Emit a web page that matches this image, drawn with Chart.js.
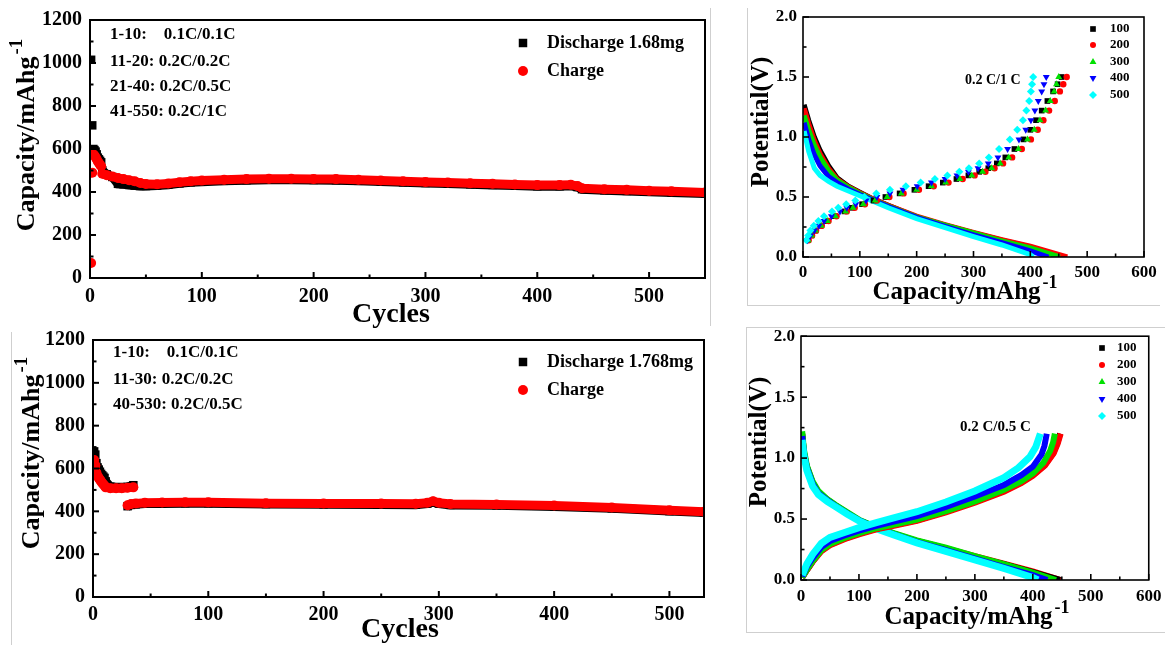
<!DOCTYPE html>
<html>
<head>
<meta charset="utf-8">
<script src="https://cdn.jsdelivr.net/npm/chart.js@4.4.1/dist/chart.umd.min.js"></script>
<style>
body { margin: 0; background: #fff; width: 1168px; height: 645px; position: relative; overflow: hidden; }
canvas { position: absolute; }
.edge { position: absolute; background: #cfcfcf; }
</style>
</head>
<body>
<div class="edge" style="left:710px;top:8px;width:1px;height:318px"></div>
<div class="edge" style="left:747px;top:8px;width:1px;height:297px"></div>
<div class="edge" style="left:747px;top:305px;width:413px;height:1px"></div>
<div class="edge" style="left:11px;top:332px;width:1px;height:313px"></div>
<div class="edge" style="left:746px;top:327px;width:1px;height:305px"></div>
<div class="edge" style="left:746px;top:327px;width:419px;height:1px"></div>
<div class="edge" style="left:746px;top:632px;width:419px;height:1px"></div>

<canvas id="c1" style="left:0;top:0" width="720" height="332"></canvas>
<canvas id="c2" style="left:730px;top:0" width="438" height="320"></canvas>
<canvas id="c3" style="left:0;top:320px" width="720" height="325"></canvas>
<canvas id="c4" style="left:730px;top:320px" width="438" height="325"></canvas>

<script>
// ---- cycling, 1.68 mg (top left) ----
const p1EarlyCyc = [1, 2, 3, 4, 5, 6, 7, 8, 9, 10];
const p1EarlyDis = [1015, 710, 600, 595, 588, 575, 560, 552, 545, 538];
const p1EarlyChg = [70, 490, 575, 570, 562, 552, 542, 535, 527, 520];
const p1Cyc = [11, 15, 20, 25, 30, 35, 40, 45, 50, 60, 70, 80, 90, 100, 120, 140, 160, 180, 200, 220,
  240, 260, 280, 300, 320, 340, 360, 380, 400, 420, 430, 436, 440, 460, 480, 500, 520, 550];
const p1Chg = [485, 478, 472, 465, 460, 455, 450, 442, 437, 436, 440, 445, 450, 453, 457, 460, 462, 462, 461, 460,
  457, 454, 450, 447, 444, 441, 438, 435, 432, 432, 434, 428, 418, 413, 410, 406, 403, 398];
const p1Dis = [500, 482, 470, 438, 436, 433, 430, 428, 428, 430, 434, 440, 445, 448, 452, 455, 457, 457, 456, 455,
  452, 449, 445, 442, 439, 436, 433, 430, 427, 427, 429, 423, 413, 408, 405, 401, 398, 393];

// ---- cycling, 1.768 mg (bottom left) ----
const p3EarlyCyc = [1, 2, 3, 4, 5, 6, 7, 8, 9, 10];
const p3EarlyDis = [680, 665, 625, 605, 595, 585, 575, 568, 562, 556];
const p3EarlyChg = [640, 615, 580, 565, 555, 548, 540, 532, 526, 520];
const p3MidCyc = [11, 15, 20, 25, 30, 35];
const p3MidDis = [540, 515, 512, 512, 514, 522];
const p3MidChg = [512, 508, 508, 508, 510, 512];
const p3Cyc = [30, 33, 37, 45, 60, 80, 100, 150, 200, 250, 280, 290, 295, 300, 310, 350, 400, 450, 500, 530];
const p3Chg = [428, 434, 437, 440, 441, 442, 442, 438, 437, 436, 435, 440, 447, 440, 434, 432, 427, 418, 405, 398];
const p3Dis = [424, 430, 433, 436, 437, 438, 438, 434, 433, 432, 431, 436, 443, 436, 430, 428, 423, 414, 401, 394];

// ---- voltage profiles ----
const cycleLabels = ['100', '200', '300', '400', '500'];
const colors = ['#000000', '#ff0000', '#00e000', '#0000ff', '#00ffff'];
const styles = ['rect', 'circle', 'triangle', 'triangle', 'rectRot'];
const rotations = [0, 0, 0, 180, 0];

// top right, 0.2 C/1 C
const p2DisCap = [2, 10, 20, 30, 45, 60, 80, 100, 125, 150, 200, 250, 300, 350, 400];
const p2DisV = [
  [1.27, 1.14, 1.00, 0.89, 0.76, 0.66, 0.59, 0.54, 0.48, 0.43, 0.335, 0.265, 0.20, 0.14, 0.085],
  [1.24, 1.11, 0.97, 0.86, 0.74, 0.65, 0.585, 0.535, 0.48, 0.43, 0.34, 0.27, 0.205, 0.145, 0.09],
  [1.18, 1.06, 0.93, 0.83, 0.72, 0.64, 0.58, 0.53, 0.475, 0.425, 0.335, 0.265, 0.20, 0.135, 0.075],
  [1.12, 0.98, 0.85, 0.76, 0.67, 0.62, 0.565, 0.52, 0.47, 0.42, 0.33, 0.255, 0.185, 0.12, 0.05],
  [1.05, 0.88, 0.74, 0.68, 0.63, 0.59, 0.55, 0.51, 0.46, 0.41, 0.32, 0.245, 0.17, 0.10, 0.02]
];
const p2DisEnd = [458, 465, 452, 432, 405];
const p2ChgV = [0.14, 0.18, 0.22, 0.26, 0.30, 0.34, 0.38, 0.41, 0.44, 0.47, 0.50, 0.53, 0.56, 0.59, 0.62,
  0.65, 0.68, 0.71, 0.74, 0.78, 0.83, 0.90, 0.98, 1.06, 1.14, 1.22, 1.30, 1.38, 1.44, 1.50];
const p2ChgCap = [
  [9, 15, 22, 31, 42, 56, 73, 86, 104, 124, 145, 170, 196, 221, 246, 270, 291, 310, 326, 341, 356, 372, 388, 400, 410, 420, 430, 440, 448, 455],
  [10, 16, 23, 33, 45, 59, 77, 91, 109, 130, 152, 177, 204, 230, 256, 281, 302, 321, 337, 352, 368, 385, 401, 413, 423, 433, 443, 452, 458, 464],
  [9, 15, 22, 32, 43, 57, 75, 88, 106, 127, 148, 173, 200, 226, 251, 276, 297, 316, 332, 347, 362, 379, 395, 407, 417, 427, 435, 442, 446, 450],
  [8, 13, 20, 28, 37, 50, 65, 77, 93, 111, 130, 153, 176, 201, 226, 250, 271, 291, 308, 326, 343, 360, 380, 392, 401, 408, 414, 420, 424, 428],
  [6, 9, 13, 19, 27, 37, 51, 62, 76, 92, 108, 129, 153, 181, 207, 232, 254, 275, 292, 310, 327, 345, 364, 377, 387, 393, 398, 401, 403, 405]
];

// bottom right, 0.2 C/0.5 C
const p4DisCap = [2, 5, 10, 20, 30, 45, 60, 80, 100, 130, 160, 200, 250, 300, 350, 400];
const p4DisV = [
  [1.20, 1.05, 0.93, 0.80, 0.72, 0.66, 0.61, 0.55, 0.49, 0.43, 0.38, 0.32, 0.26, 0.19, 0.13, 0.065],
  [1.20, 1.05, 0.93, 0.80, 0.72, 0.66, 0.61, 0.55, 0.49, 0.43, 0.38, 0.32, 0.26, 0.195, 0.135, 0.07],
  [1.22, 1.07, 0.94, 0.81, 0.73, 0.665, 0.615, 0.555, 0.495, 0.435, 0.385, 0.325, 0.265, 0.195, 0.13, 0.06],
  [1.18, 1.04, 0.92, 0.79, 0.71, 0.655, 0.605, 0.545, 0.49, 0.425, 0.375, 0.31, 0.245, 0.175, 0.105, 0.04],
  [1.15, 1.02, 0.90, 0.77, 0.70, 0.645, 0.60, 0.54, 0.485, 0.42, 0.37, 0.305, 0.235, 0.165, 0.095, 0.02]
];
const p4DisEnd = [447, 448, 440, 425, 409];
const p4ChgCap = [
  [2, 10, 20, 35, 50, 75, 100, 130, 160, 200, 250, 300, 350, 380, 400, 420, 435, 442, 447],
  [2, 10, 20, 35, 50, 75, 100, 130, 160, 200, 250, 300, 350, 380, 400, 421, 436, 443, 448],
  [2, 10, 20, 35, 50, 75, 100, 130, 160, 200, 250, 300, 350, 380, 400, 418, 430, 435, 438],
  [2, 10, 20, 35, 50, 75, 100, 130, 160, 200, 250, 300, 350, 380, 400, 415, 420, 424],
  [2, 10, 20, 35, 50, 75, 100, 130, 160, 200, 250, 300, 350, 375, 395, 405, 413]
];
const p4ChgV = [
  [0.02, 0.08, 0.15, 0.24, 0.29, 0.34, 0.38, 0.42, 0.45, 0.49, 0.56, 0.64, 0.73, 0.80, 0.86, 0.94, 1.04, 1.12, 1.20],
  [0.02, 0.08, 0.15, 0.235, 0.285, 0.335, 0.375, 0.415, 0.445, 0.485, 0.555, 0.635, 0.725, 0.795, 0.855, 0.94, 1.04, 1.12, 1.20],
  [0.02, 0.085, 0.155, 0.245, 0.295, 0.345, 0.385, 0.425, 0.455, 0.495, 0.565, 0.645, 0.74, 0.81, 0.875, 0.96, 1.06, 1.13, 1.20],
  [0.03, 0.11, 0.18, 0.27, 0.32, 0.365, 0.405, 0.445, 0.48, 0.525, 0.60, 0.685, 0.78, 0.86, 0.93, 1.03, 1.10, 1.20],
  [0.04, 0.13, 0.21, 0.30, 0.35, 0.39, 0.43, 0.47, 0.51, 0.56, 0.64, 0.73, 0.84, 0.92, 1.01, 1.09, 1.20]
];

// ticks
const cycTicks1 = [0, 100, 200, 300, 400, 500];
const cycMinor1 = [50, 150, 250, 350, 450, 550];
const cycMinor3 = [50, 150, 250, 350, 450];
const capTicks = [0, 200, 400, 600, 800, 1000, 1200];
const capMinor = [100, 300, 500, 700, 900, 1100];
const mahTicks = [0, 100, 200, 300, 400, 500, 600];
const mahMinor = [50, 150, 250, 350, 450, 550];
const vTicks = [0, 0.5, 1.0, 1.5, 2.0];
const vMinor = [0.25, 0.75, 1.25, 1.75];

const FAMILY = '"Liberation Serif", "Times New Roman", serif';
const pts = (xs, ys) => xs.map((x, i) => ({ x: x, y: ys[i] }));

function drawText(ctx, t) {
  const f = s => 'bold ' + s + 'px ' + FAMILY;
  ctx.save();
  ctx.translate(t.x, t.y);
  if (t.rot) ctx.rotate(-Math.PI / 2);
  ctx.fillStyle = '#000';
  ctx.textBaseline = 'middle';
  ctx.textAlign = 'left';
  ctx.font = f(t.size);
  const w1 = ctx.measureText(t.text).width;
  let w2 = 0;
  if (t.sup) { ctx.font = f(Math.round(t.size * 0.72)); w2 = ctx.measureText(t.sup).width + 2; }
  const x0 = t.align === 'left' ? 0 : -(w1 + w2) / 2;
  ctx.font = f(t.size);
  ctx.fillText(t.text, x0, 0);
  if (t.sup) {
    ctx.font = f(Math.round(t.size * 0.72));
    ctx.fillText(t.sup, x0 + w1 + 2, -t.size * 0.38);
  }
  ctx.restore();
}

// frame, inward ticks, legend keys and labels
const deco = {
  id: 'deco',
  afterDatasetsDraw(chart, args, o) {
    const ctx = chart.ctx, a = chart.chartArea;
    const sx = chart.scales.x, sy = chart.scales.y;
    ctx.save();
    ctx.strokeStyle = '#000';
    ctx.lineWidth = o.lw;
    ctx.strokeRect(a.left, a.top, a.right - a.left, a.bottom - a.top);
    const tick = (list, len, horiz) => list.forEach(v => {
      ctx.beginPath();
      if (horiz) {
        const p = sx.getPixelForValue(v);
        ctx.moveTo(p, a.bottom); ctx.lineTo(p, a.bottom - len);
      } else {
        const p = sy.getPixelForValue(v);
        ctx.moveTo(a.left, p); ctx.lineTo(a.left + len, p);
      }
      ctx.stroke();
    });
    tick(o.xMajor, 6, true); tick(o.xMinor, 3.5, true);
    tick(o.yMajor, 6, false); tick(o.yMinor, 3.5, false);
    (o.keys || []).forEach(k => {
      ctx.fillStyle = k.color;
      ctx.strokeStyle = k.color;
      Chart.helpers.drawPoint(ctx, { pointStyle: k.style, rotation: k.rot || 0, radius: k.r, borderWidth: 0 }, k.x, k.y);
    });
    (o.texts || []).forEach(t => drawText(ctx, t));
    ctx.restore();
  }
};

function makeChart(id, datasets, c) {
  const tickFont = { family: FAMILY, size: c.tickSize, weight: 'bold' };
  return new Chart(document.getElementById(id), {
    type: 'scatter',
    data: { datasets: datasets },
    plugins: [deco],
    options: {
      responsive: false,
      animation: false,
      layout: { padding: c.pad },
      plugins: {
        legend: { display: false },
        tooltip: { enabled: false },
        deco: { lw: c.lw, xMajor: c.xTicks, xMinor: c.xMinor, yMajor: c.yTicks, yMinor: c.yMinor, texts: c.texts, keys: c.keys }
      },
      scales: {
        x: {
          type: 'linear', min: c.xMin, max: c.xMax,
          grid: { display: false, drawTicks: false }, border: { display: false },
          afterBuildTicks: s => { s.ticks = c.xTicks.map(v => ({ value: v })); },
          afterFit: s => { s.height = c.xH; },
          ticks: { color: '#000', font: tickFont, padding: c.xPad, maxRotation: 0, autoSkip: false, callback: v => String(v) }
        },
        y: {
          type: 'linear', min: c.yMin, max: c.yMax,
          grid: { display: false, drawTicks: false }, border: { display: false },
          afterBuildTicks: s => { s.ticks = c.yTicks.map(v => ({ value: v })); },
          afterFit: s => { s.width = c.yW; },
          ticks: { color: '#000', font: tickFont, padding: c.yPad, autoSkip: false, callback: c.yFmt }
        }
      }
    }
  });
}

function cycSets(earlyCyc, earlyDis, earlyChg, bands) {
  const sets = [];
  const early = (data, color, style, r) => ({
    data: data, showLine: false, pointStyle: style, pointRadius: r,
    backgroundColor: color, borderColor: color, pointBorderWidth: 0
  });
  const band = (data, color, style, r) => ({
    data: data, showLine: true, borderColor: color, borderWidth: 9, tension: 0,
    pointStyle: style, pointRadius: r, backgroundColor: color, pointBorderWidth: 0
  });
  sets.push(early(pts(earlyCyc, earlyChg), '#ff0000', 'circle', 5));
  bands.forEach(b => sets.push(band(pts(b[0], b[2]), '#ff0000', 'circle', 5)));
  sets.push(early(pts(earlyCyc, earlyDis), '#000000', 'rect', 6));
  bands.forEach(b => sets.push(band(pts(b[0], b[1]), '#000000', 'rect', 6)));
  return sets;
}

// ---- chart 1 ----
makeChart('c1', cycSets(p1EarlyCyc, p1EarlyDis, p1EarlyChg, [[p1Cyc, p1Dis, p1Chg]]), {
  xMin: 0, xMax: 550, yMin: 0, yMax: 1200,
  xTicks: cycTicks1, xMinor: cycMinor1, yTicks: capTicks, yMinor: capMinor,
  yFmt: v => String(v), tickSize: 20, lw: 2,
  pad: { top: 18, right: 15, left: 0, bottom: 0 }, yW: 90, xH: 54, xPad: 7, yPad: 8,
  keys: [
    { style: 'rect', color: '#000', x: 523, y: 43, r: 6 },
    { style: 'circle', color: '#f00', x: 523, y: 71, r: 5 }
  ],
  texts: [
    { text: 'Capacity/mAhg', sup: '-1', x: 27, y: 135, size: 26, rot: true },
    { text: 'Cycles', x: 391, y: 315, size: 28 },
    { text: '1-10:    0.1C/0.1C', x: 110, y: 35, size: 17, align: 'left' },
    { text: '11-20: 0.2C/0.2C', x: 110, y: 62, size: 17, align: 'left' },
    { text: '21-40: 0.2C/0.5C', x: 110, y: 87, size: 17, align: 'left' },
    { text: '41-550: 0.2C/1C', x: 110, y: 112, size: 17, align: 'left' },
    { text: 'Discharge 1.68mg', x: 547, y: 43, size: 18, align: 'left' },
    { text: 'Charge', x: 547, y: 71, size: 18, align: 'left' }
  ]
});

// ---- chart 3 ----
makeChart('c3', cycSets(p3EarlyCyc, p3EarlyDis, p3EarlyChg, [[p3MidCyc, p3MidDis, p3MidChg], [p3Cyc, p3Dis, p3Chg]]), {
  xMin: 0, xMax: 530, yMin: 0, yMax: 1200,
  xTicks: cycTicks1, xMinor: cycMinor3, yTicks: capTicks, yMinor: capMinor,
  yFmt: v => String(v), tickSize: 20, lw: 2,
  pad: { top: 16, right: 16, left: 0, bottom: 0 }, yW: 93, xH: 48, xPad: 6, yPad: 8,
  keys: [
    { style: 'rect', color: '#000', x: 523, y: 42, r: 6 },
    { style: 'circle', color: '#f00', x: 523, y: 70, r: 5 }
  ],
  texts: [
    { text: 'Capacity/mAhg', sup: '-1', x: 32, y: 133, size: 26, rot: true },
    { text: 'Cycles', x: 400, y: 310, size: 28 },
    { text: '1-10:    0.1C/0.1C', x: 113, y: 33, size: 17, align: 'left' },
    { text: '11-30: 0.2C/0.2C', x: 113, y: 60, size: 17, align: 'left' },
    { text: '40-530: 0.2C/0.5C', x: 113, y: 85, size: 17, align: 'left' },
    { text: 'Discharge 1.768mg', x: 547, y: 42, size: 18, align: 'left' },
    { text: 'Charge', x: 547, y: 70, size: 18, align: 'left' }
  ]
});

// ---- voltage profile charts ----
function profileKeys(x0, tx, ys) {
  const keys = [], texts = [];
  cycleLabels.forEach((lab, i) => {
    keys.push({ style: styles[i], rot: rotations[i], color: colors[i], x: x0, y: ys[i], r: i === 1 ? 3 : 4 });
    texts.push({ text: lab, x: tx, y: ys[i], size: 13, align: 'left' });
  });
  return { keys: keys, texts: texts };
}

const p2Sets = [];
for (let i = 4; i >= 0; i--) {
  p2Sets.push({
    data: pts(p2ChgCap[i], p2ChgV), showLine: false, pointStyle: styles[i], pointRotation: rotations[i],
    pointRadius: i === 1 ? 3.2 : 4, backgroundColor: colors[i], borderColor: colors[i], pointBorderWidth: 0
  });
}
for (let i = 4; i >= 0; i--) {
  p2Sets.push({
    data: pts(p2DisCap.concat([p2DisEnd[i]]), p2DisV[i].concat([0])), showLine: true, tension: 0,
    borderColor: colors[i], borderWidth: 5, pointRadius: 0
  });
}
const k2 = profileKeys(363, 380, [29, 45, 62, 78, 95]);
makeChart('c2', p2Sets, {
  xMin: 0, xMax: 600, yMin: 0, yMax: 2,
  xTicks: mahTicks, xMinor: mahMinor, yTicks: vTicks, yMinor: vMinor,
  yFmt: v => v.toFixed(1), tickSize: 17, lw: 1.6,
  pad: { top: 17, right: 24, left: 0, bottom: 0 }, yW: 73, xH: 63, xPad: 5, yPad: 6,
  keys: k2.keys,
  texts: [
    { text: 'Potential(V)', x: 32, y: 122, size: 25, rot: true },
    { text: 'Capacity/mAhg', sup: '-1', x: 235, y: 293, size: 25 },
    { text: '0.2 C/1 C', x: 235, y: 80, size: 14, align: 'left' }
  ].concat(k2.texts)
});

const p4Sets = [];
for (let i = 4; i >= 0; i--) {
  p4Sets.push({
    data: pts(p4ChgCap[i], p4ChgV[i]), showLine: true, tension: 0,
    borderColor: colors[i], borderWidth: i === 4 ? 7 : 6, pointRadius: 0
  });
}
[4, 3, 2, 0, 1].forEach(i => {
  p4Sets.push({
    data: pts(p4DisCap.concat([p4DisEnd[i]]), p4DisV[i].concat([0])), showLine: true, tension: 0,
    borderColor: colors[i], borderWidth: i === 4 ? 7 : 6, pointRadius: 0
  });
});
const k4 = profileKeys(372, 387, [28, 45, 62, 79, 96]);
makeChart('c4', p4Sets, {
  xMin: 0, xMax: 600, yMin: 0, yMax: 2,
  xTicks: mahTicks, xMinor: mahMinor, yTicks: vTicks, yMinor: vMinor,
  yFmt: v => v.toFixed(1), tickSize: 17, lw: 1.6,
  pad: { top: 15, right: 15, left: 0, bottom: 0 }, yW: 71, xH: 65, xPad: 6.5, yPad: 6,
  keys: k4.keys,
  texts: [
    { text: 'Potential(V)', x: 30, y: 122, size: 25, rot: true },
    { text: 'Capacity/mAhg', sup: '-1', x: 247, y: 298, size: 25 },
    { text: '0.2 C/0.5 C', x: 230, y: 107, size: 15, align: 'left' }
  ].concat(k4.texts)
});
</script>
</body>
</html>
